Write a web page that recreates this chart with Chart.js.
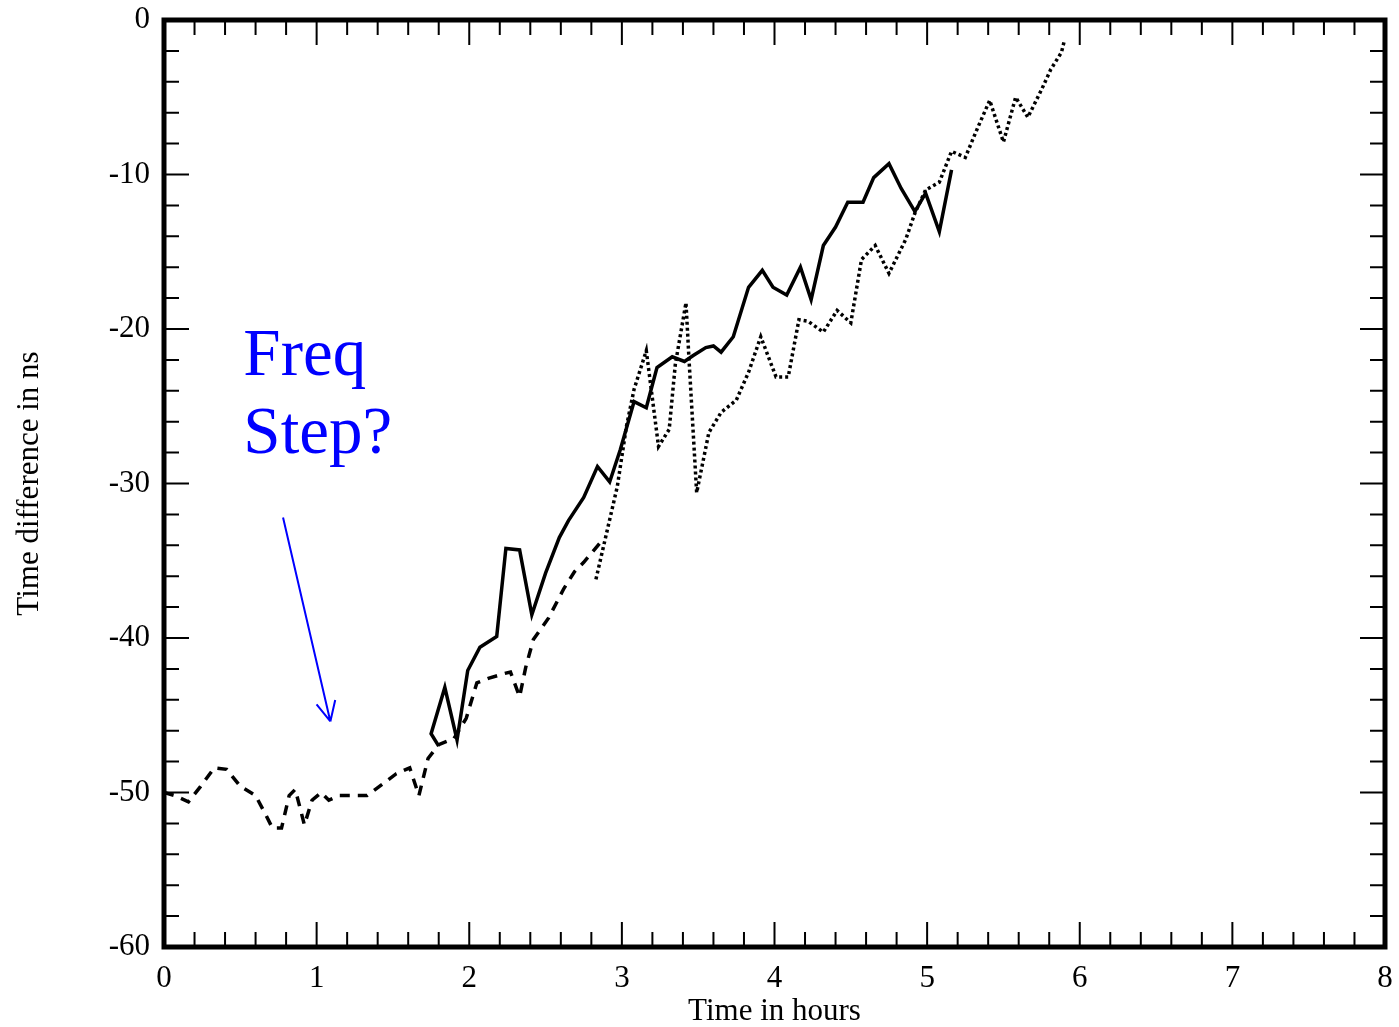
<!DOCTYPE html>
<html>
<head>
<meta charset="utf-8">
<title>Time difference</title>
<script src="https://cdn.jsdelivr.net/npm/chart.js@4.4.1/dist/chart.umd.min.js"></script>
<style>
  html, body { margin: 0; padding: 0; background: #fff; }
  canvas { display: block; }
</style>
</head>
<body>
<canvas id="chart" width="1399" height="1027"></canvas>
<script>
// dashed trace (before the step)
const dashedHours = [0.0, 0.07, 0.16, 0.24, 0.33, 0.41, 0.50, 0.60, 0.67, 0.71, 0.77, 0.82, 0.86, 0.92, 0.97, 1.03, 1.08, 1.15, 1.23, 1.33, 1.44, 1.52, 1.61, 1.67, 1.73, 1.80, 1.90, 1.98, 2.05, 2.13, 2.23, 2.27, 2.33, 2.37, 2.42, 2.52, 2.62, 2.69, 2.75, 2.87];
const dashedNs = [-50.0, -50.2, -50.6, -49.6, -48.4, -48.5, -49.6, -50.2, -51.5, -52.3, -52.3, -50.2, -49.8, -52.1, -50.5, -50.0, -50.5, -50.2, -50.2, -50.2, -49.4, -48.8, -48.4, -50.2, -47.8, -46.9, -46.5, -45.2, -42.9, -42.6, -42.3, -42.2, -43.8, -41.9, -40.1, -38.7, -36.8, -35.7, -35.1, -33.7];

// solid trace
const solidHours = [1.80, 1.75, 1.84, 1.92, 1.99, 2.07, 2.18, 2.20, 2.24, 2.33, 2.41, 2.50, 2.59, 2.65, 2.75, 2.84, 2.92, 2.99, 3.08, 3.16, 3.23, 3.33, 3.41, 3.47, 3.55, 3.60, 3.65, 3.73, 3.83, 3.92, 3.99, 4.08, 4.17, 4.24, 4.32, 4.40, 4.48, 4.58, 4.65, 4.75, 4.83, 4.92, 4.99, 5.08, 5.16];
const solidNs = [-47.0, -46.2, -43.2, -46.6, -42.1, -40.6, -39.9, -38.0, -34.2, -34.3, -38.5, -35.8, -33.5, -32.4, -30.9, -28.9, -29.9, -27.8, -24.7, -25.1, -22.5, -21.8, -22.1, -21.7, -21.2, -21.1, -21.5, -20.5, -17.3, -16.2, -17.3, -17.8, -16.0, -18.1, -14.6, -13.4, -11.8, -11.8, -10.2, -9.3, -10.9, -12.4, -11.2, -13.7, -9.7];

// dotted trace
const dottedHours = [2.83, 2.97, 3.03, 3.08, 3.16, 3.24, 3.31, 3.35, 3.42, 3.44, 3.49, 3.57, 3.65, 3.75, 3.83, 3.91, 4.01, 4.09, 4.16, 4.22, 4.32, 4.41, 4.50, 4.57, 4.66, 4.75, 4.86, 4.92, 4.99, 5.08, 5.16, 5.25, 5.33, 5.41, 5.50, 5.58, 5.66, 5.75, 5.81, 5.88, 5.90];
const dottedNs = [-36.2, -30.2, -26.3, -23.9, -21.4, -27.6, -26.5, -22.3, -18.3, -22.0, -30.6, -26.7, -25.4, -24.6, -22.8, -20.5, -23.1, -23.1, -19.4, -19.5, -20.2, -18.8, -19.6, -15.5, -14.6, -16.4, -14.2, -12.5, -11.0, -10.5, -8.5, -8.9, -7.0, -5.2, -7.9, -5.0, -6.3, -4.5, -3.2, -2.1, -1.3];

const xTicks = [0, 1, 2, 3, 4, 5, 6, 7, 8];
const yTicks = [0, -10, -20, -30, -40, -50, -60];

// note placed in data units
const noteLines = ["Freq", "Step?"];
const noteAt = { x: 0.52, y: -23.0 };
const arrowFrom = { x: 0.78, y: -32.2 };
const arrowTo = { x: 1.09, y: -45.4 };

const pts = (xs, ys) => xs.map((x, i) => ({ x, y: ys[i] }));
const serif = "'Liberation Serif', 'Times New Roman', serif";

// frame and inward ticks on all four sides
const framePlugin = {
  id: "frame",
  afterDatasetsDraw(chart) {
    const { ctx, chartArea: a, scales } = chart;
    ctx.save();
    ctx.strokeStyle = "#000";
    ctx.lineWidth = 2;
    ctx.beginPath();
    for (let i = 0; i <= 40; i++) {
      const px = scales.x.getPixelForValue(i * 0.2);
      const len = i % 5 === 0 ? 25 : 15;
      ctx.moveTo(px, a.bottom); ctx.lineTo(px, a.bottom - len);
      ctx.moveTo(px, a.top); ctx.lineTo(px, a.top + len);
    }
    for (let i = 0; i <= 30; i++) {
      const py = scales.y.getPixelForValue(-i * 2);
      const len = i % 5 === 0 ? 25 : 15;
      ctx.moveTo(a.left, py); ctx.lineTo(a.left + len, py);
      ctx.moveTo(a.right, py); ctx.lineTo(a.right - len, py);
    }
    ctx.stroke();
    ctx.lineWidth = 5;
    ctx.strokeRect(a.left, a.top, a.right - a.left, a.bottom - a.top);
    ctx.restore();
  }
};

const notePlugin = {
  id: "note",
  afterDraw(chart) {
    const { ctx, scales } = chart;
    const X = v => scales.x.getPixelForValue(v);
    const Y = v => scales.y.getPixelForValue(v);
    ctx.save();
    ctx.fillStyle = "#0000ff";
    ctx.strokeStyle = "#0000ff";
    ctx.font = "67px " + serif;
    ctx.textBaseline = "alphabetic";
    noteLines.forEach((t, i) => ctx.fillText(t, X(noteAt.x), Y(noteAt.y) + i * 78));
    const x1 = X(arrowFrom.x), y1 = Y(arrowFrom.y), x2 = X(arrowTo.x), y2 = Y(arrowTo.y);
    ctx.lineWidth = 2;
    ctx.beginPath();
    ctx.moveTo(x1, y1); ctx.lineTo(x2, y2);
    const ang = Math.atan2(y2 - y1, x2 - x1);
    [0.45, -0.45].forEach(d => {
      ctx.moveTo(x2, y2);
      ctx.lineTo(x2 - 22 * Math.cos(ang + d), y2 - 22 * Math.sin(ang + d));
    });
    ctx.stroke();
    ctx.restore();
  }
};

const line = (data, dash) => ({
  data,
  borderColor: "#000",
  borderWidth: 3.5,
  borderDash: dash,
  pointRadius: 0,
  showLine: true,
  fill: false,
  tension: 0
});

const tickFont = { family: serif, size: 31 };

new Chart(document.getElementById("chart"), {
  type: "scatter",
  data: {
    datasets: [
      line(pts(dashedHours, dashedNs), [10, 8]),
      line(pts(solidHours, solidNs), []),
      line(pts(dottedHours, dottedNs), [3, 3])
    ]
  },
  options: {
    responsive: false,
    devicePixelRatio: 1,
    animation: false,
    layout: { padding: { left: 0, right: 14, top: 20, bottom: 0 } },
    plugins: { legend: { display: false }, tooltip: { enabled: false } },
    scales: {
      x: {
        type: "linear", min: 0, max: 8,
        afterBuildTicks: s => { s.ticks = xTicks.map(v => ({ value: v })); },
        afterFit: s => { s.height = 80; s.paddingLeft = 0; s.paddingRight = 0; },
        grid: { display: false },
        border: { display: false },
        ticks: { color: "#000", padding: 5, font: tickFont },
        title: { display: true, text: "Time in hours", color: "#000", padding: 0, font: { family: serif, size: 31, lineHeight: 1 } }
      },
      y: {
        type: "linear", min: -60, max: 0,
        afterBuildTicks: s => { s.ticks = yTicks.map(v => ({ value: v })); },
        afterFit: s => { s.width = 164; s.paddingTop = 0; s.paddingBottom = 0; },
        grid: { display: false },
        border: { display: false },
        ticks: { color: "#000", padding: 6, font: tickFont },
        title: { display: true, text: "Time difference in ns", color: "#000", padding: { top: 14 }, font: { family: serif, size: 31, lineHeight: 1 } }
      }
    }
  },
  plugins: [framePlugin, notePlugin]
});
</script>
</body>
</html>
